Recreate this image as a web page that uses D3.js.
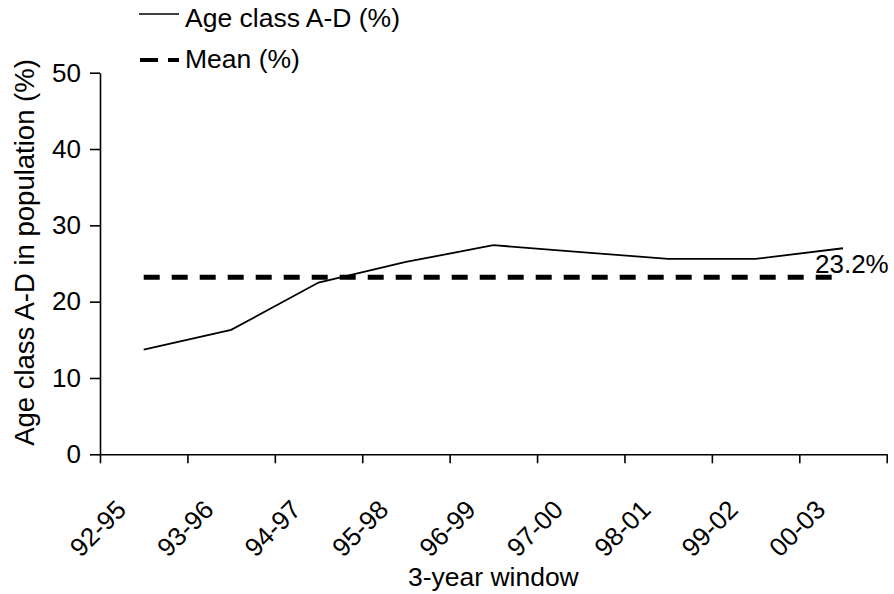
<!DOCTYPE html>
<html>
<head>
<meta charset="utf-8">
<script src="https://cdn.jsdelivr.net/npm/d3@7"></script>
<style>
  html, body { margin: 0; padding: 0; background: #fff; }
  svg { display: block; font-family: "Liberation Sans", Arial, sans-serif; }
</style>
</head>
<body>
<svg id="chart" width="894" height="594"></svg>
<script>
const categories = ["92-95","93-96","94-97","95-98","96-99","97-00","98-01","99-02","00-03"];
const ageClassValues = [13.7, 16.3, 22.5, 25.2, 27.4, 26.5, 25.6, 25.6, 27.0];
const meanValue = 23.2;
const meanLabel = "23.2%";
const yTicks = [0, 10, 20, 30, 40, 50];
const seriesNames = ["Age class A-D (%)", "Mean (%)"];
const xTitle = "3-year window";
const yTitle = "Age class A-D in population (%)";

(function () {
const svg = d3.select("#chart");
const FS = 26.5;
const pLeft = 100, pRight = 886.7, pTop = 72.7, pBottom = 454.3;

const x = d3.scaleBand().domain(categories).range([pLeft, pRight]).paddingInner(0).paddingOuter(0);
const xb = d3.scaleLinear().domain([0, categories.length]).range([pLeft, pRight]);
const y = d3.scaleLinear().domain([0, 50]).range([pBottom, pTop]);
const cx = d => x(d) + x.bandwidth() / 2;

// Y axis
const yAxis = svg.append("g")
  .attr("transform", `translate(${pLeft},0)`)
  .call(d3.axisLeft(y).tickValues(yTicks).tickSize(10).tickSizeOuter(0).tickPadding(9));
yAxis.selectAll("text").attr("font-size", 26).attr("fill", "#000").attr("font-family", "Liberation Sans, Arial, sans-serif");
yAxis.selectAll("line, path").attr("stroke", "#000").attr("stroke-width", 1.6);

// X axis (ticks at category boundaries)
const xAxis = svg.append("g")
  .attr("transform", `translate(0,${pBottom})`)
  .call(d3.axisBottom(xb).tickValues(d3.range(categories.length + 1)).tickFormat("").tickSize(9).tickSizeOuter(0));
xAxis.selectAll("line, path").attr("stroke", "#000").attr("stroke-width", 1.6);

// X labels rotated
svg.append("g").selectAll("text").data(categories).join("text")
  .attr("transform", d => `translate(${cx(d) - 16},${pBottom + 57}) rotate(-45)`)
  .attr("text-anchor", "end")
  .attr("font-size", 26)
  .attr("fill", "#000")
  .text(d => d);

// Mean line
svg.append("line")
  .attr("x1", cx(categories[0])).attr("x2", cx(categories[categories.length - 1]))
  .attr("y1", y(meanValue)).attr("y2", y(meanValue))
  .attr("stroke", "#000").attr("stroke-width", 5).attr("stroke-dasharray", "16,12");

// Series line
const line = d3.line().x((d, i) => cx(categories[i])).y(d => y(d));
svg.append("path").datum(ageClassValues)
  .attr("d", line).attr("fill", "none").attr("stroke", "#000").attr("stroke-width", 1.8);

// Mean label
svg.append("text")
  .attr("x", cx(categories[categories.length - 1]) - 28)
  .attr("y", y(meanValue) - 4)
  .attr("font-size", 26).attr("fill", "#000")
  .text(meanLabel);

// Axis titles
svg.append("text")
  .attr("x", (pLeft + pRight) / 2).attr("y", 586)
  .attr("text-anchor", "middle").attr("font-size", FS).attr("fill", "#000")
  .text(xTitle);
svg.append("text")
  .attr("transform", `translate(34,${(58 + 447) / 2}) rotate(-90)`)
  .attr("text-anchor", "middle").attr("font-size", 27.5).attr("fill", "#000")
  .text(yTitle);

// Legend
const leg = svg.append("g");
leg.append("line").attr("x1", 139).attr("x2", 179).attr("y1", 14).attr("y2", 14)
  .attr("stroke", "#000").attr("stroke-width", 1.6);
leg.append("text").attr("x", 185).attr("y", 27).attr("font-size", FS).attr("fill", "#000").text(seriesNames[0]);
leg.append("line").attr("x1", 140).attr("x2", 179).attr("y1", 60).attr("y2", 60)
  .attr("stroke", "#000").attr("stroke-width", 4).attr("stroke-dasharray", "18,10");
leg.append("text").attr("x", 185).attr("y", 68).attr("font-size", FS).attr("fill", "#000").text(seriesNames[1]);
})();
</script>
</body>
</html>
